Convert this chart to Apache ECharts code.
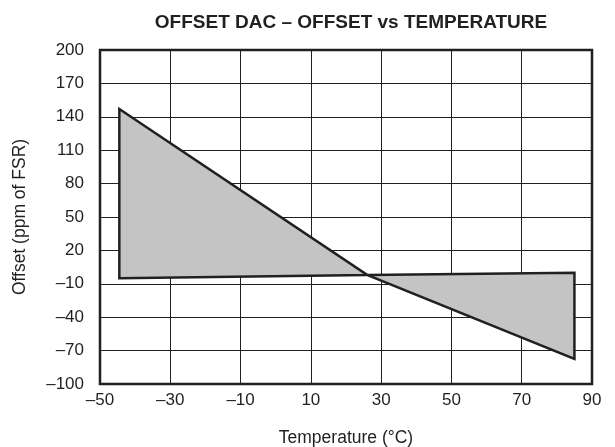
<!DOCTYPE html>
<html>
<head>
<meta charset="utf-8">
<script src="https://cdn.jsdelivr.net/npm/echarts@6/dist/echarts.min.js"></script>
<style>
  html, body { margin: 0; padding: 0; background: #fff; }
  #chart { width: 615px; height: 447px; }
</style>
</head>
<body>
<div id="chart"></div>
<script>
// outline of the shaded offset band (°C, ppm of FSR)
const temps = [-44.5, 26, 85, 85, 26, -44.5];
const offsets = [147, -2, -77.5, 0, -2, -5];

const xTicks = { min: -50, max: 90, step: 20 };
const yTicks = { min: -100, max: 200, step: 30 };

const ink = '#231f20';
const dash = v => String(v).replace('-', '\u2013');

const points = temps.map((t, i) => [t, offsets[i]]);

const chart = echarts.init(document.getElementById('chart'));
chart.setOption({
  animation: false,
  textStyle: { fontFamily: 'Liberation Sans, Arial, sans-serif' },
  title: {
    text: 'OFFSET DAC \u2013 OFFSET vs TEMPERATURE',
    left: 346,
    top: 8,
    textAlign: 'center',
    textStyle: { fontSize: 19, fontWeight: 'bold', color: ink }
  },
  grid: {
    left: 100, right: 23, top: 50, bottom: 63,
    outerBoundsMode: 'none',
    containLabel: false,
    show: true, borderColor: ink, borderWidth: 2.5
  },
  xAxis: {
    type: 'value',
    min: xTicks.min, max: xTicks.max, interval: xTicks.step,
    name: 'Temperature (\u00b0C)',
    nameLocation: 'middle',
    nameGap: 45,
    nameTextStyle: { fontSize: 17.5, color: ink },
    axisLine: { show: false },
    axisTick: { show: false },
    axisLabel: { fontSize: 17, color: ink, margin: 8, formatter: dash },
    splitLine: { lineStyle: { color: ink, width: 1 } }
  },
  yAxis: {
    type: 'value',
    min: yTicks.min, max: yTicks.max, interval: yTicks.step,
    name: 'Offset (ppm of FSR)',
    nameLocation: 'middle',
    nameGap: 71,
    nameTextStyle: { fontSize: 17.5, color: ink },
    axisLine: { show: false },
    axisTick: { show: false },
    axisLabel: { fontSize: 17, color: ink, margin: 16, formatter: dash },
    splitLine: { lineStyle: { color: ink, width: 1 } }
  },
  series: [{
    type: 'custom',
    data: [0],
    renderItem: (params, api) => ({
      type: 'polygon',
      shape: { points: points.map(p => api.coord(p)) },
      style: { fill: '#c4c4c4', stroke: ink, lineWidth: 2.5, lineJoin: 'miter' }
    }),
    z: 5
  }]
});
</script>
</body>
</html>
